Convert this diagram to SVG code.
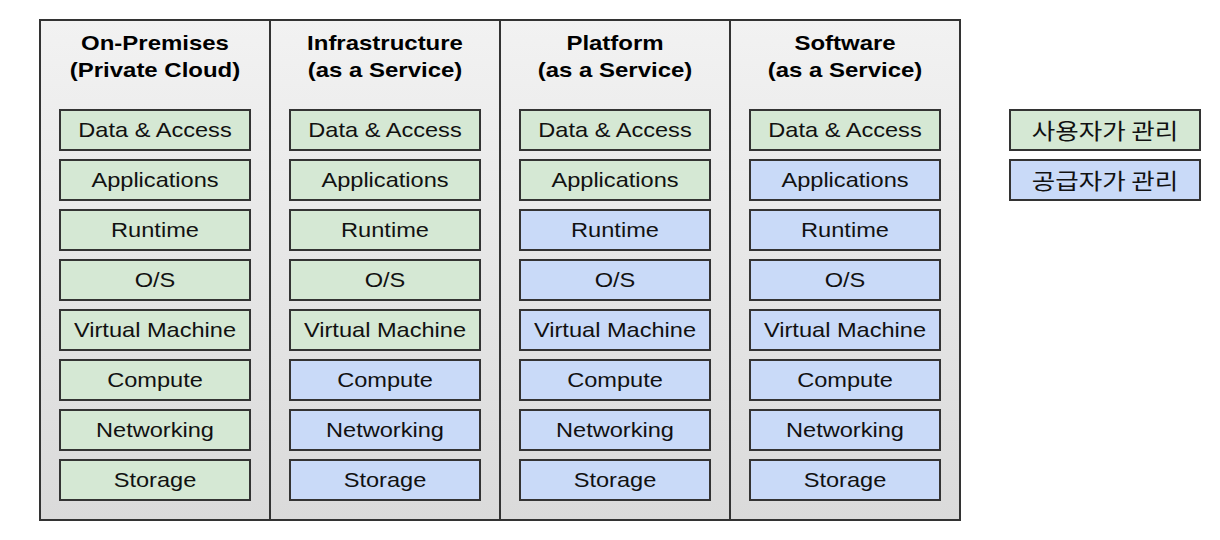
<svg xmlns="http://www.w3.org/2000/svg" width="1220" height="540" viewBox="0 0 1220 540">
<defs>
<linearGradient id="colbg" x1="0" y1="0" x2="0" y2="1">
<stop offset="0" stop-color="#f2f2f2"/>
<stop offset="1" stop-color="#dadada"/>
</linearGradient>
<style>
.col{fill:url(#colbg);stroke:#333;stroke-width:2}
.hdr{font-family:"Liberation Sans",Arial,sans-serif;font-weight:bold;font-size:20.5px;fill:#000;text-anchor:middle}
.u{fill:#d5e8d4;stroke:#333;stroke-width:2}
.p{fill:#c9daf8;stroke:#333;stroke-width:2}
.t{font-family:"Liberation Sans",Arial,sans-serif;font-size:20px;fill:#111;text-anchor:middle;dominant-baseline:central}
.k{font-family:"Noto Sans CJK KR","Liberation Sans",sans-serif;font-size:22px;fill:#111;text-anchor:middle;dominant-baseline:central}
</style>
</defs>
<rect width="1220" height="540" fill="#fff"/>
<g id="col-onprem">
<rect class="col" x="40" y="20" width="230" height="500"/>
<rect class="u" x="60" y="110" width="190" height="40"/>
<rect class="u" x="60" y="160" width="190" height="40"/>
<rect class="u" x="60" y="210" width="190" height="40"/>
<rect class="u" x="60" y="260" width="190" height="40"/>
<rect class="u" x="60" y="310" width="190" height="40"/>
<rect class="u" x="60" y="360" width="190" height="40"/>
<rect class="u" x="60" y="410" width="190" height="40"/>
<rect class="u" x="60" y="460" width="190" height="40"/>
<g transform="translate(155 0) scale(1.17 1)">
<text class="hdr" x="0" y="50">On-Premises</text>
<text class="hdr" x="0" y="77">(Private Cloud)</text>
</g>
<g transform="translate(155 0) scale(1.18 1)">
<text class="t" x="0" y="130">Data &amp; Access</text>
<text class="t" x="0" y="180">Applications</text>
<text class="t" x="0" y="230">Runtime</text>
<text class="t" x="0" y="280">O/S</text>
<text class="t" x="0" y="330">Virtual Machine</text>
<text class="t" x="0" y="380">Compute</text>
<text class="t" x="0" y="430">Networking</text>
<text class="t" x="0" y="480">Storage</text>
</g>
</g>
<g id="col-iaas">
<rect class="col" x="270" y="20" width="230" height="500"/>
<rect class="u" x="290" y="110" width="190" height="40"/>
<rect class="u" x="290" y="160" width="190" height="40"/>
<rect class="u" x="290" y="210" width="190" height="40"/>
<rect class="u" x="290" y="260" width="190" height="40"/>
<rect class="u" x="290" y="310" width="190" height="40"/>
<rect class="p" x="290" y="360" width="190" height="40"/>
<rect class="p" x="290" y="410" width="190" height="40"/>
<rect class="p" x="290" y="460" width="190" height="40"/>
<g transform="translate(385 0) scale(1.17 1)">
<text class="hdr" x="0" y="50">Infrastructure</text>
<text class="hdr" x="0" y="77">(as a Service)</text>
</g>
<g transform="translate(385 0) scale(1.18 1)">
<text class="t" x="0" y="130">Data &amp; Access</text>
<text class="t" x="0" y="180">Applications</text>
<text class="t" x="0" y="230">Runtime</text>
<text class="t" x="0" y="280">O/S</text>
<text class="t" x="0" y="330">Virtual Machine</text>
<text class="t" x="0" y="380">Compute</text>
<text class="t" x="0" y="430">Networking</text>
<text class="t" x="0" y="480">Storage</text>
</g>
</g>
<g id="col-paas">
<rect class="col" x="500" y="20" width="230" height="500"/>
<rect class="u" x="520" y="110" width="190" height="40"/>
<rect class="u" x="520" y="160" width="190" height="40"/>
<rect class="p" x="520" y="210" width="190" height="40"/>
<rect class="p" x="520" y="260" width="190" height="40"/>
<rect class="p" x="520" y="310" width="190" height="40"/>
<rect class="p" x="520" y="360" width="190" height="40"/>
<rect class="p" x="520" y="410" width="190" height="40"/>
<rect class="p" x="520" y="460" width="190" height="40"/>
<g transform="translate(615 0) scale(1.17 1)">
<text class="hdr" x="0" y="50">Platform</text>
<text class="hdr" x="0" y="77">(as a Service)</text>
</g>
<g transform="translate(615 0) scale(1.18 1)">
<text class="t" x="0" y="130">Data &amp; Access</text>
<text class="t" x="0" y="180">Applications</text>
<text class="t" x="0" y="230">Runtime</text>
<text class="t" x="0" y="280">O/S</text>
<text class="t" x="0" y="330">Virtual Machine</text>
<text class="t" x="0" y="380">Compute</text>
<text class="t" x="0" y="430">Networking</text>
<text class="t" x="0" y="480">Storage</text>
</g>
</g>
<g id="col-saas">
<rect class="col" x="730" y="20" width="230" height="500"/>
<rect class="u" x="750" y="110" width="190" height="40"/>
<rect class="p" x="750" y="160" width="190" height="40"/>
<rect class="p" x="750" y="210" width="190" height="40"/>
<rect class="p" x="750" y="260" width="190" height="40"/>
<rect class="p" x="750" y="310" width="190" height="40"/>
<rect class="p" x="750" y="360" width="190" height="40"/>
<rect class="p" x="750" y="410" width="190" height="40"/>
<rect class="p" x="750" y="460" width="190" height="40"/>
<g transform="translate(845 0) scale(1.17 1)">
<text class="hdr" x="0" y="50">Software</text>
<text class="hdr" x="0" y="77">(as a Service)</text>
</g>
<g transform="translate(845 0) scale(1.18 1)">
<text class="t" x="0" y="130">Data &amp; Access</text>
<text class="t" x="0" y="180">Applications</text>
<text class="t" x="0" y="230">Runtime</text>
<text class="t" x="0" y="280">O/S</text>
<text class="t" x="0" y="330">Virtual Machine</text>
<text class="t" x="0" y="380">Compute</text>
<text class="t" x="0" y="430">Networking</text>
<text class="t" x="0" y="480">Storage</text>
</g>
</g>
<g id="legend-user">
<rect class="u" x="1010" y="110" width="190" height="40"/>
<g transform="translate(1105 0) scale(1.16 1)"><text class="k" x="0" y="129">사용자가 관리</text></g>
</g>
<g id="legend-provider">
<rect class="p" x="1010" y="160" width="190" height="40"/>
<g transform="translate(1105 0) scale(1.16 1)"><text class="k" x="0" y="179">공급자가 관리</text></g>
</g>
<g id="connectors"></g>
</svg>
